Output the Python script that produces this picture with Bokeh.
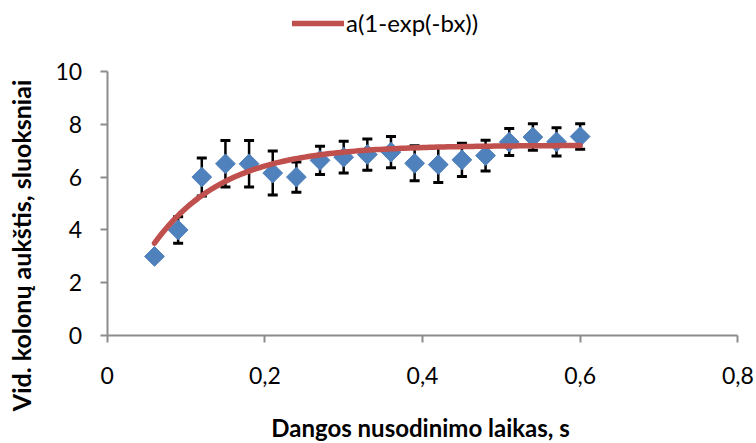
import numpy as np
from bokeh.plotting import figure
from bokeh.models import (ColumnDataSource, Range1d, FixedTicker, Whisker, TeeHead,
                          Legend, LegendItem, CustomJSTickFormatter, Label)
from bokeh.embed import file_html
from bokeh.resources import INLINE

# Measured column height vs. coating deposition time
time_s = [0.06, 0.09, 0.12, 0.15, 0.18, 0.21, 0.24, 0.27, 0.30, 0.33,
          0.36, 0.39, 0.42, 0.45, 0.48, 0.51, 0.54, 0.57, 0.60]
height_layers = [3.0, 4.0, 6.0, 6.5, 6.5, 6.15, 6.0, 6.63, 6.75, 6.85,
                 6.94, 6.52, 6.47, 6.65, 6.81, 7.32, 7.51, 7.33, 7.53]
height_err = [0.0, 0.5, 0.72, 0.88, 0.88, 0.83, 0.57, 0.53, 0.6, 0.59,
              0.59, 0.66, 0.68, 0.63, 0.58, 0.51, 0.5, 0.53, 0.48]

# Saturation fit y = a(1 - exp(-b x))
A_FIT = 7.2
B_FIT = 11.1
fit_x = np.linspace(time_s[0], time_s[-1], 120)
fit_y = A_FIT * (1 - np.exp(-B_FIT * fit_x))

x_ticks = [0, 0.2, 0.4, 0.6, 0.8]
y_ticks = [0, 2, 4, 6, 8, 10]

x_title = "Dangos nusodinimo laikas, s"
y_title = "Vid. kolonų aukštis, sluoksniai"
fit_label = "a(1-exp(-bx))"

FONT = "Lato"
AXIS_GREY = "#8c8c8c"

# The plot frame fills the whole canvas; the axes are pinned at x=0 / y=0 and
# bounded to the data area, leaving room around them for titles and legend.
p = figure(width=756, height=443,
           x_range=Range1d(-0.13535, 0.82368), y_range=Range1d(-4.070, 12.672),
           output_backend="svg", toolbar_location=None,
           min_border_left=0, min_border_right=0, min_border_top=0, min_border_bottom=0)
p.outline_line_color = None
p.xgrid.visible = False
p.ygrid.visible = False
p.background_fill_color = "white"
p.border_fill_color = "white"

for ax in (p.xaxis[0], p.yaxis[0]):
    ax.fixed_location = 0
    ax.axis_line_color = AXIS_GREY
    ax.axis_line_width = 2
    ax.major_tick_line_color = AXIS_GREY
    ax.major_tick_line_width = 2
    ax.major_tick_in = 0
    ax.major_tick_out = 7
    ax.minor_tick_line_color = None
    ax.major_label_text_font = FONT
    ax.major_label_text_font_size = "23px"
    ax.major_label_text_color = "black"

p.xaxis.ticker = FixedTicker(ticks=x_ticks)
p.xaxis.bounds = (0, 0.8)
p.xaxis.formatter = CustomJSTickFormatter(
    code="return (Math.round(tick * 10) / 10).toString().replace('.', ',');")
p.xaxis.major_label_standoff = 24

p.yaxis.ticker = FixedTicker(ticks=y_ticks)
p.yaxis.bounds = (0, 10)
p.yaxis.major_label_standoff = 18

# Axis titles
p.add_layout(Label(x=0.3975, y=-3.465, text=x_title,
                   text_align="center", text_baseline="alphabetic",
                   text_font=FONT, text_font_size="24px", text_font_style="bold",
                   text_color="black"))
p.add_layout(Label(x=-0.1278, y=3.413, text=y_title, angle=np.pi / 2,
                   text_align="center", text_baseline="top",
                   text_font=FONT, text_font_size="25px", text_font_style="bold",
                   text_color="black"))

# Error bars (skip points without spread)
err_idx = [i for i, e in enumerate(height_err) if e > 0]
err_src = ColumnDataSource(data=dict(
    x=[time_s[i] for i in err_idx],
    upper=[height_layers[i] + height_err[i] for i in err_idx],
    lower=[height_layers[i] - height_err[i] for i in err_idx],
))
whisker = Whisker(source=err_src, base="x", upper="upper", lower="lower",
                  line_color="black", line_width=2.5, level="underlay",
                  upper_head=TeeHead(size=10, line_color="black", line_width=3),
                  lower_head=TeeHead(size=10, line_color="black", line_width=3))
p.add_layout(whisker)

pts = ColumnDataSource(data=dict(x=time_s, y=height_layers))
p.scatter("x", "y", source=pts, marker="square", angle=np.pi / 4, size=14,
          fill_color="#4F81BD", line_color="#4F81BD")

curve = p.line(fit_x, fit_y, line_color="#C0504D", line_width=5.5, line_cap="round")

legend = Legend(items=[LegendItem(label=fit_label, renderers=[curve])],
                location=(292, 406), orientation="horizontal",
                padding=0, margin=0, spacing=0,
                glyph_width=52, glyph_height=16, label_height=28, label_standoff=2,
                border_line_color=None, background_fill_alpha=0,
                label_text_font=FONT, label_text_font_size="24px",
                label_text_color="black")
p.add_layout(legend)

open("out.html", "w").write(file_html(p, INLINE))
